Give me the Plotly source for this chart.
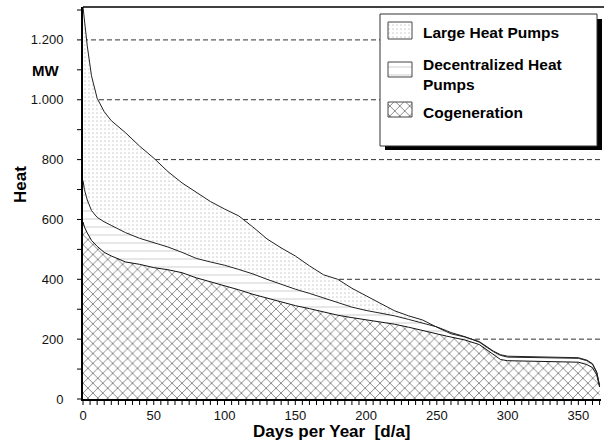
import plotly.graph_objects as go

# ---- data ----
days = [0, 1, 3, 6, 10, 15, 20, 30, 40, 50, 60, 70, 80, 90, 100, 110, 120, 130, 140,
        150, 160, 170, 180, 190, 200, 210, 220, 230, 240, 250, 257, 260, 270, 280, 290,
        295, 300, 320, 340, 350, 356, 360, 363, 365]

# upper boundary of cogeneration
cogeneration = [592, 575, 555, 530, 510, 490, 478, 458, 450, 439, 432, 422, 405, 392, 380,
                365, 350, 337, 325, 312, 302, 291, 280, 272, 265, 258, 250, 240, 228, 216,
                210, 207, 197, 182, 148, 132, 128, 127, 126, 123, 115, 105, 80, 40]

# upper boundary of cogeneration + decentralized heat pumps
cog_plus_decentral = [730, 700, 665, 630, 607, 592, 580, 556, 537, 522, 508, 490, 470, 458,
                      447, 433, 418, 400, 383, 367, 353, 337, 322, 307, 296, 287, 278, 266,
                      254, 241, 228, 222, 208, 190, 158, 146, 140, 139, 138, 136, 128, 116,
                      88, 43]

# upper boundary of all (incl. large heat pumps)
total_heat = [1310, 1260, 1180, 1080, 1005, 960, 930, 890, 845, 805, 760, 722, 690, 660,
              635, 612, 575, 535, 505, 478, 445, 415, 400, 370, 345, 320, 295, 278, 264,
              240, 226, 218, 207, 192, 160, 148, 143, 141, 140, 138, 130, 118, 90, 45]

legend_names = ["Large Heat Pumps", "Decentralized Heat<br>Pumps", "Cogeneration"]

# tick positions and labels
x_tickvals = list(range(0, 366, 5))
x_labelvals = [0, 50, 100, 150, 200, 250, 300, 350]
x_ticktext = ["0", "50", "100", "150", "200", "250", "300", "350"]
y_tickvals = list(range(0, 1301, 100))
y_labelvals = [0, 200, 400, 600, 800, 1000, 1200]
y_ticktext = ["0", "200", "400", "600", "800", "1.000", "1.200"]
y_gridvals = [200, 400, 600, 800, 1000, 1200]

X_RANGE = [0, 366]
Y_RANGE = [0, 1310]

# ---- layout geometry (pixels) ----
W, H = 604, 445
L, R, T, B = 83, 601, 7, 399
TICK = 6


def xp(px):
    return (px - L) / (R - L)


def yp(py):
    return (B - py) / (B - T)


def xd(px):  # pixel -> x data (for legend swatch placement)
    return X_RANGE[0] + xp(px) * (X_RANGE[1] - X_RANGE[0])


def yd(py):  # pixel -> y data (for legend swatch placement)
    return Y_RANGE[0] + yp(py) * (Y_RANGE[1] - Y_RANGE[0])


def x_frac(v):  # axis value -> paper fraction (for tick marks in the margin)
    return (v - X_RANGE[0]) / (X_RANGE[1] - X_RANGE[0])


def y_frac(v):
    return (v - Y_RANGE[0]) / (Y_RANGE[1] - Y_RANGE[0])


FONT = "Arial, Liberation Sans, sans-serif"

cross = dict(shape="x", size=7, solidity=0.24, fgcolor="#000000", bgcolor="white")
hlines = dict(shape="-", size=8, solidity=0.12, fgcolor="#999999", bgcolor="white")
dots = dict(shape=".", size=4, solidity=0.15, fgcolor="#a0a0a0", bgcolor="white")

fig = go.Figure()
fig.add_trace(go.Scatter(x=days, y=cogeneration, mode="lines", fill="tozeroy",
                         line=dict(color="#111111", width=1), fillcolor="white",
                         fillpattern=cross, showlegend=False, hoverinfo="skip"))
fig.add_trace(go.Scatter(x=days, y=cog_plus_decentral, mode="lines", fill="tonexty",
                         line=dict(color="#222222", width=1), fillcolor="white",
                         fillpattern=hlines, showlegend=False, hoverinfo="skip"))
fig.add_trace(go.Scatter(x=days, y=total_heat, mode="lines", fill="tonexty",
                         line=dict(color="#222222", width=1), fillcolor="white",
                         fillpattern=dots, showlegend=False, hoverinfo="skip"))

# ---- custom legend swatches ----
sw = [(22, 39, dots), (62, 77, hlines), (102, 117, cross)]
for (y0, y1, pat) in sw:
    fig.add_trace(go.Scatter(x=[xd(388), xd(412), xd(412), xd(388), xd(388)],
                             y=[yd(y0), yd(y0), yd(y1), yd(y1), yd(y0)],
                             mode="lines", fill="toself",
                             line=dict(color="#444444", width=1), fillcolor="white",
                             fillpattern=pat, showlegend=False, hoverinfo="skip"))

shapes = []
# dashed horizontal gridlines (behind the fills)
for g in y_gridvals:
    shapes.append(dict(type="line", xref="paper", yref="y", x0=0, x1=1, y0=g, y1=g,
                       line=dict(color="#333333", width=1, dash="5px,3px"), layer="below"))
# tick marks (paper-referenced so they are not clipped to the plot area)
for v in x_tickvals:
    shapes.append(dict(type="line", xref="paper", yref="paper", x0=x_frac(v), x1=x_frac(v),
                       y0=0, y1=yp(B + TICK), line=dict(color="black", width=1),
                       layer="above"))
for v in y_tickvals:
    shapes.append(dict(type="line", xref="paper", yref="paper", x0=xp(L - TICK), x1=0,
                       y0=y_frac(v), y1=y_frac(v), line=dict(color="black", width=1),
                       layer="above"))
shapes += [
    # legend shadow and box
    dict(type="rect", xref="paper", yref="paper", x0=xp(385), x1=xp(602), y0=yp(150),
         y1=yp(19), fillcolor="black", line=dict(width=0), layer="between"),
    dict(type="rect", xref="paper", yref="paper", x0=xp(380), x1=xp(597), y0=yp(146),
         y1=yp(14), fillcolor="white", line=dict(color="#333333", width=1), layer="between"),
    # top frame line
    dict(type="line", xref="paper", yref="paper", x0=0, x1=xp(604), y0=1, y1=1,
         line=dict(color="black", width=1.5), layer="above"),
]

bold = lambda s: dict(family=FONT, size=s, color="black", weight="bold")
annotations = [
    dict(text="Heat", x=xp(20), y=yp(185), xref="paper", yref="paper", textangle=-90,
         xanchor="center", yanchor="middle", showarrow=False, font=bold(17)),
    dict(text="MW", x=xp(45), y=yp(70), xref="paper", yref="paper", showarrow=False,
         xanchor="center", yanchor="middle", font=bold(15)),
    dict(text="Days per Year \u00a0[d/a]", x=xp(332), y=yp(431), xref="paper", yref="paper",
         xanchor="center", yanchor="middle", showarrow=False, font=bold(17)),
    dict(text=legend_names[0], x=xp(421), y=yp(32), xref="paper", yref="paper",
         xanchor="left", yanchor="middle", showarrow=False, align="left", font=bold(15.5)),
    dict(text=legend_names[1], x=xp(421), y=yp(75), xref="paper", yref="paper",
         xanchor="left", yanchor="middle", showarrow=False, align="left", font=bold(15.5)),
    dict(text=legend_names[2], x=xp(421), y=yp(112), xref="paper", yref="paper",
         xanchor="left", yanchor="middle", showarrow=False, align="left", font=bold(15.5)),
]

fig.update_layout(
    width=W, height=H,
    margin=dict(l=L, r=W - R, t=T, b=H - B, pad=0),
    paper_bgcolor="white", plot_bgcolor="white",
    font=dict(family=FONT, size=13, color="#111111"),
    showlegend=False,
    shapes=shapes, annotations=annotations,
    xaxis=dict(range=X_RANGE, showgrid=False, zeroline=False, showline=True,
               linecolor="black", linewidth=2, ticks="", tickmode="array",
               tickvals=x_labelvals, ticktext=x_ticktext, ticklabelstandoff=3),
    yaxis=dict(range=Y_RANGE, showgrid=False, zeroline=False, showline=True,
               linecolor="black", linewidth=2, ticks="", tickmode="array",
               tickvals=y_labelvals, ticktext=y_ticktext, ticklabelstandoff=15),
)

fig.write_html("out.html")
